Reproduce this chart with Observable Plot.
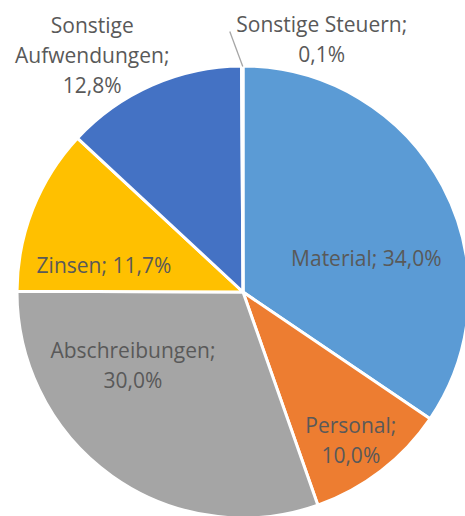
<!DOCTYPE html>
<html>
<head>
<meta charset="utf-8">
<script src="https://cdn.jsdelivr.net/npm/d3@7"></script>
<script src="https://cdn.jsdelivr.net/npm/@observablehq/plot@0.6"></script>
<style>
  html, body { margin: 0; padding: 0; background: #fff; }
  #chart svg { display: block; }
</style>
</head>
<body>
<div id="chart"></div>
<script>
// ---- data ----
const categories = ["Material", "Personal", "Abschreibungen", "Zinsen", "Sonstige Aufwendungen", "Sonstige Steuern"];
const shares = [34.0, 10.0, 30.0, 11.7, 12.8, 0.1];
const colors = ["#5B9BD5", "#ED7D31", "#A5A5A5", "#FFC000", "#4472C4", "#70AD47"];
const labelLines = [
  "Material; 34,0%",
  "Personal;\n10,0%",
  "Abschreibungen;\n30,0%",
  "Zinsen; 11,7%",
  "Sonstige\nAufwendungen;\n12,8%",
  "Sonstige Steuern;\n0,1%"
];

// ---- layout (not data) ----
const R = 226;                       // pie radius in plot units
const labelRadius = [0.6, 0.8, 0.6, 0.664, 1.3, 1.128];
const labelNudge = [[3, 27], [-3, 3], [-32, -40], [0, 26], [-33, 30], [79, 0]];

const table = categories.map((c, i) => ({category: c, value: shares[i], color: colors[i], text: labelLines[i]}));
const arcs = d3.pie().sort(null).value(d => d.value)(table);

function polar(angle, r) { return [r * Math.sin(angle), r * Math.cos(angle)]; }

const labels = arcs.map((a, i) => {
  const mid = (a.startAngle + a.endAngle) / 2;
  const [u, v] = polar(mid, labelRadius[i] * R);
  return {x: u, y: v, dx: labelNudge[i][0], dy: labelNudge[i][1], text: a.data.text};
});

// leader line for the tiny "Sonstige Steuern" slice
const steuern = arcs[5];
const sMid = (steuern.startAngle + steuern.endAngle) / 2;
const [ex, ey] = polar(sMid, R);
const leader = [{x1: ex, y1: ey, x2: ex - 13, y2: ey + 35}];

const pieMark = (index, scales) => {
  const cx = scales.x(0), cy = scales.y(0);
  const rad = scales.x(R) - scales.x(0);
  const arcGen = d3.arc().innerRadius(0).outerRadius(rad);
  const g = d3.create("svg:g").attr("transform", `translate(${cx},${cy})`);
  g.selectAll("path").data(arcs).join("path")
    .attr("d", arcGen)
    .attr("fill", d => d.data.color)
    .attr("stroke", "#fff")
    .attr("stroke-width", 3)
    .attr("stroke-linejoin", "round");
  return g.node();
};

const plot = Plot.plot({
  width: 465,
  height: 516,
  margin: 0,
  x: {domain: [-243, 222], axis: null},
  y: {domain: [-224, 292], axis: null},
  style: {fontFamily: "'Open Sans', sans-serif", background: "#fff"},
  marks: [
    pieMark,
    Plot.link(leader, {x1: "x1", y1: "y1", x2: "x2", y2: "y2", stroke: "#A6A6A6", strokeWidth: 1.3}),
    ...labels.map(l => Plot.text([l], {
      x: "x", y: "y", text: "text", dx: l.dx, dy: l.dy,
      fill: "#595959", fontSize: 21, lineHeight: 1.43, textAnchor: "middle"
    }))
  ]
});
document.getElementById("chart").appendChild(plot);
</script>
</body>
</html>
